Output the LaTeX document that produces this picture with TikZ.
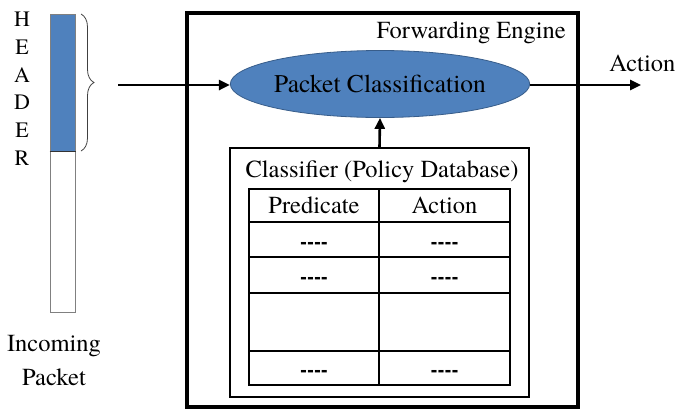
\documentclass[tikz,border=0pt]{standalone}
\usepackage{fontspec}
\setmainfont{TeX Gyre Termes}
\usetikzlibrary{shapes.geometric,arrows.meta,decorations.pathreplacing}
\definecolor{hdrblue}{RGB}{79,129,189}
\definecolor{hdredge}{RGB}{56,93,138}
\newcommand\bigtxt{\fontsize{24.5}{28}\selectfont}
% placeholder entry: zero-size box so the dashes sit a little below the cell centre
\newcommand\nodash{\raisebox{-8.5pt}[0pt][0pt]{\textbf{-{}-{}-{}-}}}
\tikzset{
  lbl/.style={font=\bigtxt, inner sep=0pt},
  flow/.style={line width=2.6pt, -{Triangle[length=11pt,width=10pt]}},
  cell/.style={draw, line width=1.8pt, inner sep=0pt, minimum width=130pt, font=\bigtxt},
  dashcell/.style={cell, font=\fontsize{21}{24}\selectfont}
}
\begin{document}
\begin{tikzpicture}[x=1pt,y=-1pt]
\useasboundingbox (0,0) rectangle (676,410);

% incoming packet bar
\node[draw=gray, fill=hdrblue, line width=1pt, minimum width=25pt, minimum height=137pt,
      inner sep=0pt] (hdr) at (62.5,82.5) {};
\node[draw=gray, fill=white, line width=1pt, minimum width=25pt, minimum height=161pt,
      inner sep=0pt] (body) at (62.5,231.5) {};
\draw[line width=1pt, black!80] (hdr.south west) -- (hdr.south east);
\foreach \c [count=\i from 0] in {H,E,A,D,E,R}
  \node[lbl, font=\fontsize{22}{24}\selectfont] (hl\i) at (22,{19+27.8*\i}) {\c};
\node[lbl, align=center, font=\fontsize{24.5}{34}\selectfont] (inc) at (54,361) {Incoming\\Packet};

% brace over the header
\draw[line width=0.8pt, black!75, decorate, decoration={brace, amplitude=13pt}]
  (81,14) -- (81,151);
\coordinate (bracetip) at (118,85);

% forwarding engine
\node[draw, line width=3.6pt, minimum width=391pt, minimum height=394pt, inner sep=0pt]
  (engine) at (382.5,210) {};
\node[lbl, anchor=east] (englbl) at (566,33) {Forwarding Engine};

\node[ellipse, draw=hdredge, line width=0.8pt, fill=hdrblue, minimum width=287pt,
      minimum height=67pt, inner sep=0pt, font=\fontsize{25.5}{28}\selectfont] (pc) at (380,84) {Packet Classification};

\coordinate (out) at (641,85);
\node[lbl, anchor=east] (actlbl) at (675.5,63) {Action};

\draw[flow] (bracetip) -- (bracetip -| pc.west);
\draw[flow] (pc.east |- out) -- (out);

% classifier (policy database)
\node[draw, line width=2pt, minimum width=299pt, minimum height=249pt, inner sep=0pt]
  (cls) at (379.5,272.5) {};
\node[lbl] (clslbl) at (382,172) {Classifier (Policy Database)};
\draw[flow] (cls.north) -- (pc.south);

% rule table
\node[cell, minimum height=33pt] (h1) at (314,205.5) {Predicate};
\node[cell, minimum height=33pt, minimum width=131pt] (h2) at (444.5,205.5) {Action};
\node[dashcell, minimum height=35pt] (r1a) at (314,239.5) {\nodash};
\node[dashcell, minimum height=35pt, minimum width=131pt] (r1b) at (444.5,239.5) {\nodash};
\node[dashcell, minimum height=36pt] (r2a) at (314,275) {\nodash};
\node[dashcell, minimum height=36pt, minimum width=131pt] (r2b) at (444.5,275) {\nodash};
\node[cell, minimum height=58pt] (r3a) at (314,322) {};
\node[cell, minimum height=58pt, minimum width=131pt] (r3b) at (444.5,322) {};
\node[dashcell, minimum height=34pt] (r4a) at (314,368) {\nodash};
\node[dashcell, minimum height=34pt, minimum width=131pt] (r4b) at (444.5,368) {\nodash};
\end{tikzpicture}
\end{document}
